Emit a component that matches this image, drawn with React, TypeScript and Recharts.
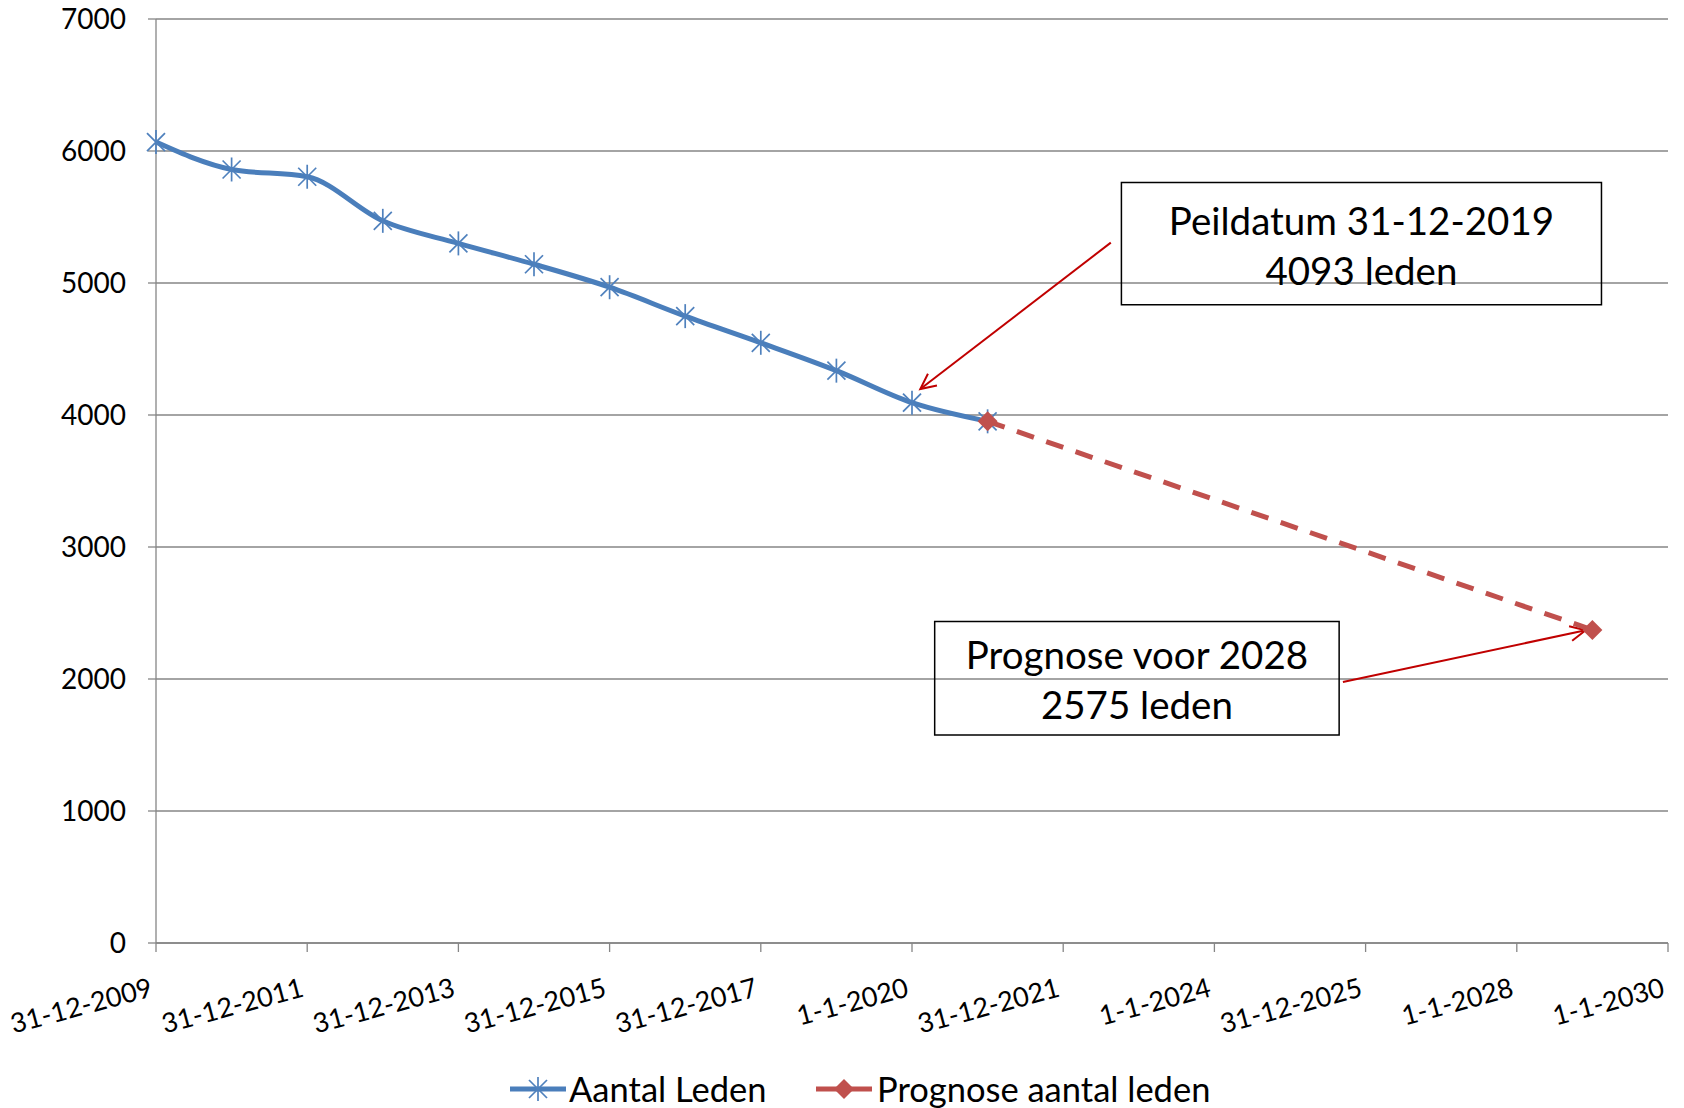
import React from "react";
import {
  CartesianGrid,
  Legend,
  Line,
  LineChart,
  ReferenceArea,
  ReferenceLine,
  XAxis,
  YAxis,
} from "recharts";

// peildata: 31-12 van elk jaar
const jaren = [2009, 2010, 2011, 2012, 2013, 2014, 2015, 2016, 2017, 2018, 2019, 2020, 2028];
const aantalLeden = [6068, 5860, 5805, 5471, 5300, 5142, 4968, 4749, 4547, 4336, 4093, 3952, null];
const prognoseLeden = [null, null, null, null, null, null, null, null, null, null, null, 3952, 2372];

const tickJaren = [2009, 2011, 2013, 2015, 2017, 2019, 2021, 2023, 2025, 2027, 2029];
const tickLabels = [
  "31-12-2009", "31-12-2011", "31-12-2013", "31-12-2015", "31-12-2017", "1-1-2020",
  "31-12-2021", "1-1-2024", "31-12-2025", "1-1-2028", "1-1-2030",
];
const yTicks = [0, 1000, 2000, 3000, 4000, 5000, 6000, 7000];

const peilTekst = ["Peildatum 31-12-2019", "4093 leden"];
const prognoseTekst = ["Prognose voor 2028", "2575 leden"];

const data = jaren.map((jaar, i) => ({
  jaar,
  leden: aantalLeden[i],
  prognose: prognoseLeden[i],
}));

const W = 1684;
const H = 1108;
const BLUE = "#4A7EBB";
const RED = "#C0504D";
const GRID = "#868686";

const Asterisk = ({ cx, cy }: { cx: number; cy: number }) => (
  <g stroke="#4F81BD" strokeWidth={1.7}>
    <line x1={cx - 9} y1={cy - 9} x2={cx + 9} y2={cy + 9} />
    <line x1={cx - 9} y1={cy + 9} x2={cx + 9} y2={cy - 9} />
    <line x1={cx} y1={cy - 12} x2={cx} y2={cy + 12} />
  </g>
);

const Diamond = ({ cx, cy }: { cx: number; cy: number }) => (
  <path d={`M${cx},${cy - 10}L${cx + 10},${cy}L${cx},${cy + 10}L${cx - 10},${cy}Z`} fill={RED} />
);

const starDot = (p: any) =>
  p.cx == null || p.cy == null || p.value == null ? (
    <g key={`s${p.index}`} />
  ) : (
    <Asterisk key={`s${p.index}`} cx={p.cx} cy={p.cy} />
  );

const diamondDot = (p: any) =>
  p.cx == null || p.cy == null || p.value == null ? (
    <g key={`d${p.index}`} />
  ) : (
    <Diamond key={`d${p.index}`} cx={p.cx} cy={p.cy} />
  );

const XTick = (props: any) => {
  const { x, y, payload } = props;
  const label = tickLabels[tickJaren.indexOf(payload.value)];
  return (
    <g transform={`translate(${x - 2},${y + 42}) rotate(-15)`}>
      <text textAnchor="end" fontSize={27} fill="#000">
        {label}
      </text>
    </g>
  );
};

const BoxLabel = (props: any) => {
  const { viewBox, lines } = props;
  const cx = viewBox.x + viewBox.width / 2;
  const cy = viewBox.y + viewBox.height / 2;
  return (
    <g>
      {lines.map((t: string, i: number) => (
        <text
          key={t}
          x={cx}
          y={cy + (i - 0.5) * 50 + 1}
          textAnchor="middle"
          dominantBaseline="central"
          fontSize={38.5}
          fill="#000"
        >
          {t}
        </text>
      ))}
    </g>
  );
};

const arrowShape = (p: any) => {
  const { x1, y1, x2, y2 } = p;
  const a = Math.atan2(y2 - y1, x2 - x1);
  const len = 17;
  const s = 0.45;
  const ax = x2 - len * Math.cos(a - s);
  const ay = y2 - len * Math.sin(a - s);
  const bx = x2 - len * Math.cos(a + s);
  const by = y2 - len * Math.sin(a + s);
  return (
    <g stroke="#C00000" strokeWidth={2} fill="none">
      <line x1={x1} y1={y1} x2={x2} y2={y2} />
      <polyline points={`${ax},${ay} ${x2},${y2} ${bx},${by}`} />
    </g>
  );
};

const LegendContent = () => (
  <div style={{ position: "relative", width: W, height: 36, fontSize: 34.5, color: "#000" }}>
    <svg style={{ position: "absolute", left: 494, top: 0 }} width={56} height={36}>
      <line x1={0} y1={18} x2={56} y2={18} stroke={BLUE} strokeWidth={5} />
      <Asterisk cx={28} cy={18} />
    </svg>
    <span style={{ position: "absolute", left: 553, top: 0, lineHeight: "36px", whiteSpace: "nowrap" }}>
      Aantal Leden
    </span>
    <svg style={{ position: "absolute", left: 800, top: 0 }} width={56} height={36}>
      <line x1={0} y1={18} x2={56} y2={18} stroke={RED} strokeWidth={5} />
      <Diamond cx={28} cy={18} />
    </svg>
    <span style={{ position: "absolute", left: 861, top: 0, lineHeight: "36px", whiteSpace: "nowrap" }}>
      Prognose aantal leden
    </span>
  </div>
);

export default function App() {
  return (
    <div
      style={{
        position: "absolute",
        left: 0,
        top: 0,
        width: W,
        height: H,
        background: "#fff",
        fontFamily: "Lato, sans-serif",
      }}
    >
      <LineChart width={W} height={H} data={data} margin={{ top: 19, right: 16, bottom: 1, left: 16 }}>
        <CartesianGrid vertical={false} stroke={GRID} strokeWidth={1.3} />
        <XAxis
          type="number"
          dataKey="jaar"
          domain={[2009, 2029]}
          ticks={tickJaren}
          interval={0}
          tick={<XTick />}
          tickSize={9}
          height={128}
          stroke={GRID}
          strokeWidth={1.3}
        />
        <YAxis
          domain={[0, 7000]}
          ticks={yTicks}
          interval={0}
          width={140}
          tickSize={8}
          tickMargin={22}
          tick={{ fill: "#000", fontSize: 28 }}
          stroke={GRID}
          strokeWidth={1.3}
        />
        <Legend verticalAlign="bottom" content={<LegendContent />} wrapperStyle={{ left: 16, width: W - 32, height: 36 }} />
        <ReferenceArea
          x1={2021.77}
          x2={2028.12}
          y1={4835}
          y2={5762}
          fill="none"
          fillOpacity={0}
          stroke="#000"
          strokeWidth={1.5}
          ifOverflow="visible"
          label={<BoxLabel lines={peilTekst} />}
        />
        <ReferenceArea
          x1={2019.3}
          x2={2024.65}
          y1={1576}
          y2={2436}
          fill="none"
          fillOpacity={0}
          stroke="#000"
          strokeWidth={1.5}
          ifOverflow="visible"
          label={<BoxLabel lines={prognoseTekst} />}
        />
        <ReferenceLine
          segment={[{ x: 2021.63, y: 5306 }, { x: 2019.11, y: 4197 }]}
          ifOverflow="visible"
          shape={arrowShape}
        />
        <ReferenceLine
          segment={[{ x: 2024.7, y: 1978 }, { x: 2027.91, y: 2369 }]}
          ifOverflow="visible"
          shape={arrowShape}
        />
        <Line
          type="monotone"
          dataKey="leden"
          stroke={BLUE}
          strokeWidth={5}
          dot={starDot}
          activeDot={false}
          isAnimationActive={false}
        />
        <Line
          type="linear"
          dataKey="prognose"
          stroke={RED}
          strokeWidth={5}
          strokeDasharray="18 13"
          dot={diamondDot}
          activeDot={false}
          connectNulls
          isAnimationActive={false}
        />
      </LineChart>
    </div>
  );
}
